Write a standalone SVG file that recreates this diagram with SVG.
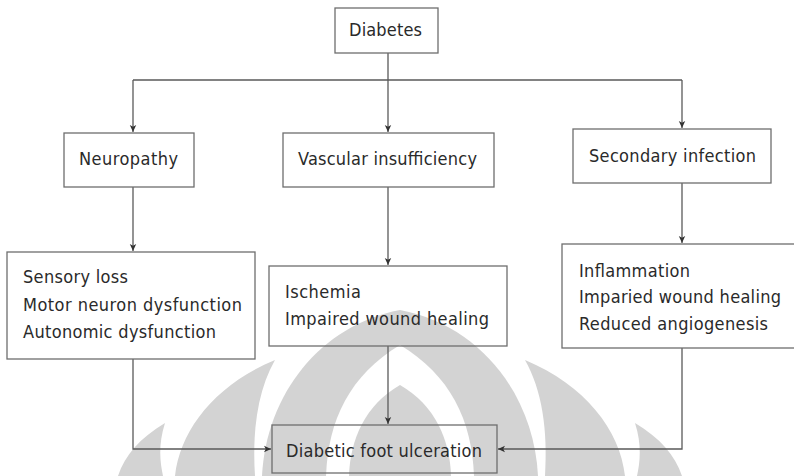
<svg xmlns="http://www.w3.org/2000/svg" width="794" height="476" viewBox="0 0 794 476">
<style>
.box{fill:none;stroke:#6e6e6e;stroke-width:1.3}
.t{font-family:"DejaVu Sans Condensed","DejaVu Sans",sans-serif;font-stretch:condensed;font-size:18px;fill:#2a2a2a}
.c{fill:none;stroke:#5a5a5a;stroke-width:1.3}
.wm{fill:#d3d3d3}
.ww{fill:#ffffff}
</style>
<defs>
<marker id="ah" markerWidth="8" markerHeight="8" refX="7" refY="4" orient="auto" markerUnits="userSpaceOnUse">
<path d="M0,0.8 L7,4 L0,7.2 L1.8,4 Z" fill="#333"/>
</marker>
</defs>
<rect width="794" height="476" fill="#fff"/>
<g id="watermark">
<path class="wm" d="M262 476 C266 395 320 325 400 310 C480 325 534 395 538 476 Z"/>
<path class="ww" d="M400 345 C350 375 328 420 326 476 L474 476 C472 420 450 375 400 345 Z"/>
<path class="wm" d="M400 385 C365 405 350 440 349 476 L451 476 C450 440 435 405 400 385 Z"/>
<path class="wm" d="M175 476 C180 430 215 385 275 360 C258 390 252 430 255 476 Z"/>
<path class="wm" d="M625 476 C620 430 585 385 525 360 C542 390 548 430 545 476 Z"/>
<path class="wm" d="M118 476 C125 455 140 438 165 423 C158 445 160 462 163 476 Z"/>
<path class="wm" d="M682 476 C675 455 660 438 635 423 C642 445 640 462 637 476 Z"/>
</g>
<g id="connectors">
<path class="c" d="M388 53 V80 M133 80 H682"/>
<path class="c" d="M133 80 V132" marker-end="url(#ah)"/>
<path class="c" d="M388 80 V132" marker-end="url(#ah)"/>
<path class="c" d="M682 80 V128" marker-end="url(#ah)"/>
<path class="c" d="M133 187 V251" marker-end="url(#ah)"/>
<path class="c" d="M388 187 V265" marker-end="url(#ah)"/>
<path class="c" d="M682 183 V243" marker-end="url(#ah)"/>
<path class="c" d="M388 346 V424" marker-end="url(#ah)"/>
<path class="c" d="M133 359 V449 H271" marker-end="url(#ah)"/>
<path class="c" d="M682 348 V449 H498" marker-end="url(#ah)"/>
</g>
<g id="diabetes">
<rect class="box" x="335" y="8" width="103" height="45"/>
<text class="t" x="349" y="36" textLength="73">Diabetes</text>
</g>
<g id="neuropathy">
<rect class="box" x="64" y="133" width="130" height="54"/>
<text class="t" x="79" y="165" textLength="99">Neuropathy</text>
</g>
<g id="vascular">
<rect class="box" x="283" y="133" width="211" height="54"/>
<text class="t" x="298" y="165" textLength="179">Vascular insufficiency</text>
</g>
<g id="secondary">
<rect class="box" x="573" y="129" width="198" height="54"/>
<text class="t" x="589" y="162" textLength="167">Secondary infection</text>
</g>
<g id="neuro-effects">
<rect class="box" x="7" y="252" width="248" height="107"/>
<text class="t" x="23" y="283" textLength="105">Sensory loss</text>
<text class="t" x="23" y="311" textLength="219">Motor neuron dysfunction</text>
<text class="t" x="23" y="338" textLength="193">Autonomic dysfunction</text>
</g>
<g id="vascular-effects">
<rect class="box" x="269" y="266" width="238" height="80"/>
<text class="t" x="285" y="298" textLength="76">Ischemia</text>
<text class="t" x="285" y="325" textLength="204">Impaired wound healing</text>
</g>
<g id="infection-effects">
<rect class="box" x="562" y="244" width="240" height="104"/>
<text class="t" x="579" y="277" textLength="111">Inflammation</text>
<text class="t" x="579" y="303" textLength="202">Imparied wound healing</text>
<text class="t" x="579" y="330" textLength="189">Reduced angiogenesis</text>
</g>
<g id="ulceration">
<rect class="box" x="272" y="425" width="225" height="48"/>
<text class="t" x="286" y="457" textLength="196">Diabetic foot ulceration</text>
</g>
</svg>
